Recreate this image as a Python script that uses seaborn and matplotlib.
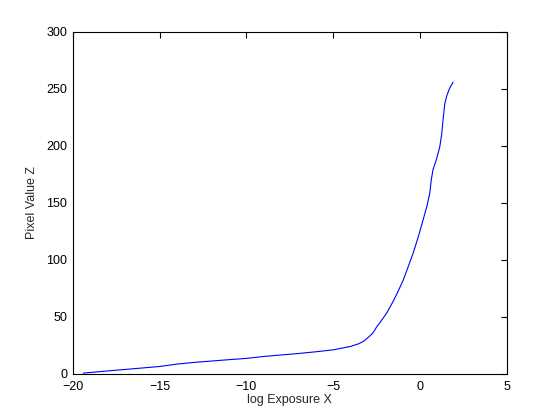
#!/usr/bin/env python3
"""Camera response curve: pixel value vs log exposure (MATLAB-style look)."""

import matplotlib
matplotlib.use("Agg")
import matplotlib.pyplot as plt
import pandas as pd
import seaborn as sns

# --- Data ---
log_exposure = [-19.4, -18.0, -17.0, -16.0, -15.0, -14.0, -13.0, -12.0, -11.0,
                -10.0, -9.0, -8.0, -7.0, -6.0, -5.0, -4.5, -4.0, -3.5, -3.2,
                -2.9, -2.7, -2.5, -2.3, -1.93, -1.6, -1.3, -0.97, -0.7, -0.39,
                -0.1, 0.18, 0.4, 0.56, 0.65, 0.75, 0.95, 1.14, 1.25, 1.33,
                1.43, 1.55, 1.7, 1.81, 1.9]
pixel_value = [0.6, 2.5, 3.8, 5.1, 6.4, 8.5, 10.0, 11.2, 12.4,
               13.5, 15.2, 16.5, 17.8, 19.3, 21.0, 22.5, 24.0, 26.5, 29.0,
               33.0, 36.0, 41.0, 45.0, 53.0, 62.0, 71.0, 82.0, 93.0, 106.0,
               120.0, 135.0, 147.0, 158.0, 170.0, 179.0, 188.0, 199.0, 210.0, 223.0,
               237.0, 244.0, 250.0, 253.0, 255.5]

df = pd.DataFrame({"log Exposure X": log_exposure, "Pixel Value Z": pixel_value})

sns.set_style("white")
plt.rcParams["font.family"] = ["Liberation Sans", "DejaVu Sans"]

fig = plt.figure(figsize=(5.6, 4.2), dpi=100)
ax = fig.add_axes([0.130, 0.110, 0.775, 0.815])

sns.lineplot(data=df, x="log Exposure X", y="Pixel Value Z", sort=False,
             color="#0000ff", linewidth=0.8, ax=ax)

ax.set_xlim(-20, 5)
ax.set_ylim(0, 300)
ax.set_xticks(range(-20, 6, 5))
ax.set_yticks(range(0, 301, 50))
ax.tick_params(direction="in", length=4, width=0.8, top=True, right=True,
               labelsize=9, colors="black")
ax.tick_params(axis="x", pad=5)
ax.tick_params(axis="y", pad=4)
for side in ax.spines.values():
    side.set_visible(True)
    side.set_color("black")
    side.set_linewidth(0.8)
ax.set_xlabel("log Exposure X", fontsize=9, labelpad=1)
ax.set_ylabel("Pixel Value Z", fontsize=9, labelpad=6)

fig.savefig("out.png", dpi=100)
